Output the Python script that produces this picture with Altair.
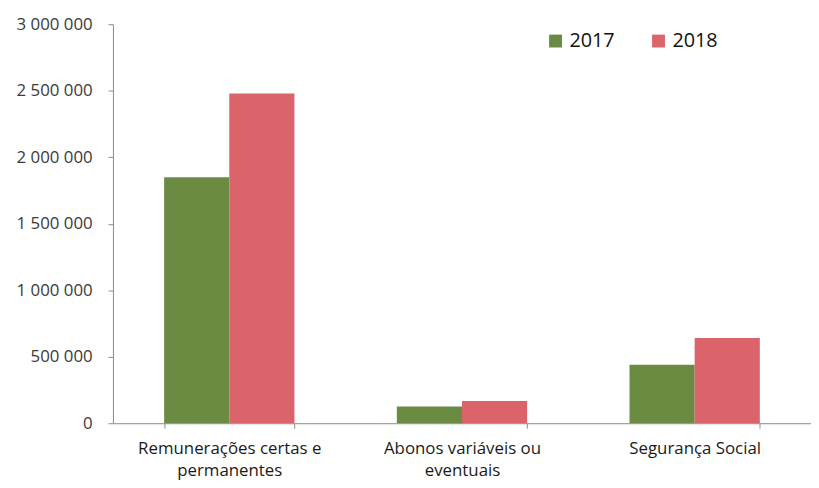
import altair as alt
import pandas as pd

categories = ["Remunerações certas e permanentes", "Abonos variáveis ou eventuais", "Segurança Social"]
label_lines = [["Remunerações certas e", "permanentes"], ["Abonos variáveis ou", "eventuais"], ["Segurança Social"]]
years = ["2017", "2018"]
values_2017 = [1850000, 125000, 440000]
values_2018 = [2480000, 167000, 641000]
y_ticks = [0, 500000, 1000000, 1500000, 2000000, 2500000, 3000000]

rows = []
for c, a, b in zip(categories, values_2017, values_2018):
    rows.append({"cat": c, "year": "2017", "value": a})
    rows.append({"cat": c, "year": "2018", "value": b})
df = pd.DataFrame(rows)

expr_parts = []
for c, lines in zip(categories, label_lines):
    arr = "[" + ",".join("'" + l + "'" for l in lines) + "]"
    expr_parts.append(f"datum.value == '{c}' ? {arr} : ")
label_expr = "".join(expr_parts) + "datum.value"

FONT = "Open Sans"

chart = alt.Chart(df).mark_bar().encode(
    x=alt.X("cat:N", sort=categories, title=None,
            scale=alt.Scale(paddingInner=0.44, paddingOuter=0.22),
            axis=alt.Axis(labelAngle=0, labelExpr=label_expr, tickBand="extent",
                          domainColor="#8a8a8a", tickColor="#8a8a8a", tickSize=5,
                          labelFont=FONT, labelFontSize=17, labelColor="#1a1a1a",
                          labelPadding=13, labelLineHeight=22, labelLimit=0)),
    xOffset=alt.XOffset("year:N", sort=years),
    y=alt.Y("value:Q", title=None,
            scale=alt.Scale(domain=[0, 3000000], nice=False),
            axis=alt.Axis(values=y_ticks, grid=False,
                          labelExpr="replace(replace(format(datum.value, ','), ',', ' '), ',', ' ')",
                          domainColor="#8a8a8a", tickColor="#8a8a8a", tickSize=5,
                          labelFont=FONT, labelFontSize=17, labelColor="#3a3a3a",
                          labelPadding=16)),
    color=alt.Color("year:N", sort=years,
                    scale=alt.Scale(domain=years, range=["#6b8a42", "#da6469"]),
                    legend=alt.Legend(title=None, orient="none", legendX=437, legendY=7,
                                      direction="horizontal", symbolType="square",
                                      symbolSize=169, symbolStrokeWidth=0,
                                      labelFont=FONT, labelFontSize=20, labelColor="#111111",
                                      labelOffset=4, columnPadding=34)),
).properties(
    width=705, height=403,
    autosize=alt.AutoSizeParams(type="none"),
    padding={"left": 106, "top": 14, "right": 0, "bottom": 60},
).configure_view(stroke=None)

chart.save("out.html", embed_options={"renderer": "svg", "actions": False})
